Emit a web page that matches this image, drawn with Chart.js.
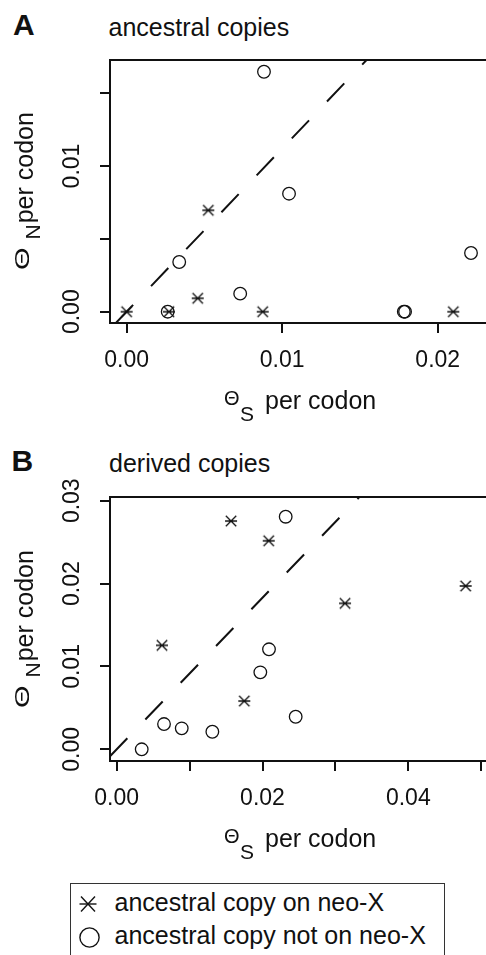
<!DOCTYPE html>
<html>
<head>
<meta charset="utf-8">
<script src="https://cdn.jsdelivr.net/npm/chart.js@4.4.1/dist/chart.umd.min.js"></script>
<style>
  html, body { margin: 0; padding: 0; background: #fff; }
  body { width: 486px; height: 955px; overflow: hidden; position: relative;
         font-family: 'Liberation Sans', Arial, sans-serif; color: #111; }
  canvas { position: absolute; left: 0; }
  .t { position: absolute; white-space: nowrap; }
  .f25 { font-size: 25px; line-height: 25px; }
  .f21 { font-size: 21px; line-height: 21px; }
  .f19 { font-size: 20px; line-height: 20px; }
  .big { font-size: 30px; line-height: 30px; font-weight: bold; }
  .rot { position: absolute; transform-origin: 0 0; transform: rotate(-90deg); }
  .legend { position: absolute; left: 70px; top: 883px; width: 375px; height: 100px;
            box-sizing: border-box; border: 1.5px solid #333; }
</style>
</head>
<body>

<div class="t big" style="left:13px; top:9.6px;">A</div>
<div class="t f25" style="left:108.5px; top:15.3px;">ancestral copies</div>
<canvas id="chartA" width="530" height="440" style="top:0px;"></canvas>

<div class="t big" style="left:11.5px; top:446.3px;">B</div>
<div class="t f25" style="left:109px; top:450.5px;">derived copies</div>
<canvas id="chartB" width="530" height="440" style="top:440px;"></canvas>

<!-- x axis titles -->
<div class="t f19" style="left:224px; top:388px;">Θ</div>
<div class="t f21" style="left:240px; top:403.2px;">S</div>
<div class="t f25" style="left:265px; top:387.8px;">per codon</div>

<div class="t f19" style="left:224px; top:825.7px;">Θ</div>
<div class="t f21" style="left:240px; top:840.9px;">S</div>
<div class="t f25" style="left:265px; top:825.5px;">per codon</div>

<!-- y axis titles, rotated -->
<div class="rot" style="left:0px; top:270px;">
  <div class="t f19" style="left:0px; top:11.5px; transform-origin:0 0; transform:scaleX(1.45);">Θ</div>
  <div class="t f21" style="left:30.5px; top:22.2px;">N</div>
  <div class="t f25" style="left:46.7px; top:12.1px;">per codon</div>
</div>
<div class="rot" style="left:0px; top:708px;">
  <div class="t f19" style="left:0px; top:11.5px; transform-origin:0 0; transform:scaleX(1.45);">Θ</div>
  <div class="t f21" style="left:30.5px; top:22.2px;">N</div>
  <div class="t f25" style="left:46.7px; top:12.1px;">per codon</div>
</div>

<div class="legend"></div>
<svg style="position:absolute; left:77px; top:894px;" width="22" height="20">
  <g stroke="#111" stroke-width="1.4" fill="none">
    <line x1="2.5" y1="10" x2="19.5" y2="10"/>
    <line x1="4" y1="2.5" x2="18" y2="17.5"/>
    <line x1="18" y1="2.5" x2="4" y2="17.5"/>
  </g>
</svg>
<svg style="position:absolute; left:78px; top:926px;" width="23" height="23">
  <circle cx="11.5" cy="11.5" r="9.6" stroke="#111" stroke-width="1.4" fill="none"/>
</svg>
<div class="t f25" style="left:114.5px; top:889.8px;">ancestral copy on neo-X</div>
<div class="t f25" style="left:114.5px; top:923.4px;">ancestral copy not on neo-X</div>

<script>
// axis ticks and labels
const xTicksA = [0, 0.01, 0.02];
const xLabelsA = ['0.00', '0.01', '0.02'];
const yTicksA = [0, 0.005, 0.01, 0.015];
const yLabelsA = ['0.00', '', '0.01', ''];
const xTicksB = [0, 0.01, 0.02, 0.03, 0.04, 0.05];
const xLabelsB = ['0.00', '', '0.02', '', '0.04', ''];
const yTicksB = [0, 0.01, 0.02, 0.03];
const yLabelsB = ['0.00', '0.01', '0.02', '0.03'];

// plot limits
const xRangeA = [-0.00107, 0.02529];
const yRangeA = [-0.000776, 0.017275];
const xRangeB = [-0.000919, 0.05532];
const yRangeB = [-0.00141, 0.03045];

// A: ancestral copies
const starSA = [0, 0.00272, 0.00457, 0.00525, 0.00875, 0.0210];
const starNA = [0, 0, 0.00092, 0.00696, 0, 0];
const circSA = [0.00264, 0.00338, 0.0073, 0.00883, 0.01044, 0.01782, 0.0179, 0.02214];
const circNA = [0, 0.00341, 0.00124, 0.01647, 0.0081, 0, 0, 0.00403];
const slopeA = 1.12;

// B: derived copies
const starSB = [0.00621, 0.01568, 0.0175, 0.02085, 0.03132, 0.04787];
const starNB = [0.01255, 0.02755, 0.00583, 0.02517, 0.01762, 0.01971];
const circSB = [0.00343, 0.00649, 0.00892, 0.01312, 0.0197, 0.02089, 0.02318, 0.02455];
const circNB = [0.0, 0.00305, 0.00253, 0.00212, 0.00929, 0.01207, 0.02807, 0.00393];
const slopeB = 0.915;

const FONT = "'Liberation Sans', Arial, sans-serif";

const pairs = (xs, ys) => xs.map((x, i) => ({x: x, y: ys[i]}));

const diagLine = (slope, xr, yr) => {
  const x0 = Math.max(xr[0], yr[0] / slope);
  const x1 = Math.min(xr[1], yr[1] / slope);
  return [{x: x0, y: x0 * slope}, {x: x1, y: x1 * slope}];
};

const makeStar = () => {
  const c = document.createElement('canvas');
  c.width = 14; c.height = 14;
  const g = c.getContext('2d');
  g.strokeStyle = '#111';
  g.lineWidth = 1.3;
  g.beginPath();
  g.moveTo(1, 7); g.lineTo(13, 7);
  g.moveTo(1.8, 1.8); g.lineTo(12.2, 12.2);
  g.moveTo(12.2, 1.8); g.lineTo(1.8, 12.2);
  g.stroke();
  return c;
};
const starImg = makeStar();

const framePlugin = {
  id: 'frame',
  beforeDatasetsDraw(chart) {
    const a = chart.chartArea, ctx = chart.ctx;
    ctx.save();
    ctx.strokeStyle = '#111';
    ctx.lineWidth = 2;
    ctx.strokeRect(a.left, a.top, a.right - a.left, a.bottom - a.top);
    ctx.restore();
  }
};

const makeChart = (id, cfg) => {
  new Chart(document.getElementById(id).getContext('2d'), {
    type: 'scatter',
    data: {
      datasets: [{
        type: 'line',
        data: diagLine(cfg.slope, cfg.xr, cfg.yr),
        borderColor: '#111',
        borderWidth: 2,
        borderDash: [25, 26],
        pointRadius: 0,
        tension: 0,
        fill: false
      }, {
        data: pairs(cfg.starS, cfg.starN),
        pointStyle: starImg,
        pointRadius: 7
      }, {
        data: pairs(cfg.circS, cfg.circN),
        pointStyle: 'circle',
        pointRadius: 6.3,
        borderWidth: 1.3,
        borderColor: '#111',
        backgroundColor: 'rgba(0,0,0,0)'
      }]
    },
    options: {
      responsive: false,
      animation: false,
      events: [],
      layout: {padding: {top: cfg.top, right: 10, left: 0, bottom: 0}},
      plugins: {legend: {display: false}, tooltip: {enabled: false}},
      scales: {
        x: {
          type: 'linear', position: 'bottom',
          min: cfg.xr[0], max: cfg.xr[1],
          afterBuildTicks: s => { s.ticks = cfg.xTicks.map(v => ({value: v})); },
          afterFit: s => { s.height = cfg.xh; },
          grid: {drawOnChartArea: false, drawTicks: true, tickLength: 10, color: '#111', lineWidth: 2},
          border: {display: false},
          ticks: {
            autoSkip: false, minRotation: 0, maxRotation: 0, padding: 14,
            color: '#111', font: {family: FONT, size: 23},
            callback: (v, i) => cfg.xLabels[i]
          }
        },
        y: {
          type: 'linear', position: 'left',
          min: cfg.yr[0], max: cfg.yr[1],
          afterBuildTicks: s => { s.ticks = cfg.yTicks.map(v => ({value: v})); },
          afterFit: s => { s.width = 110; },
          grid: {drawOnChartArea: false, drawTicks: true, tickLength: 10, color: '#111', lineWidth: 2},
          border: {display: false},
          ticks: {
            autoSkip: false, minRotation: 90, maxRotation: 90, crossAlign: 'center', padding: 5,
            color: '#111', font: {family: FONT, size: 23},
            callback: (v, i) => cfg.yLabels[i]
          }
        }
      }
    },
    plugins: [framePlugin]
  });
};

makeChart('chartA', {
  slope: slopeA, xr: xRangeA, yr: yRangeA, top: 60, xh: 117,
  starS: starSA, starN: starNA, circS: circSA, circN: circNA,
  xTicks: xTicksA, xLabels: xLabelsA, yTicks: yTicksA, yLabels: yLabelsA
});
makeChart('chartB', {
  slope: slopeB, xr: xRangeB, yr: yRangeB, top: 57, xh: 119,
  starS: starSB, starN: starNB, circS: circSB, circN: circNB,
  xTicks: xTicksB, xLabels: xLabelsB, yTicks: yTicksB, yLabels: yLabelsB
});
</script>
</body>
</html>
